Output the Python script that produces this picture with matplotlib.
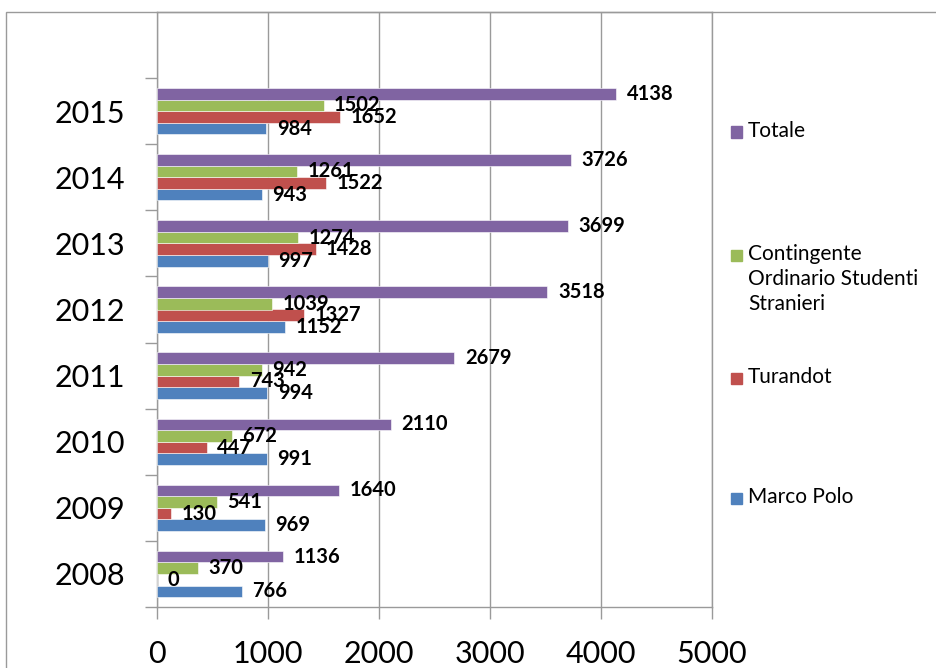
import matplotlib
matplotlib.use("Agg")
import matplotlib.pyplot as plt
import numpy as np
from matplotlib.patches import Rectangle

years = ["2008", "2009", "2010", "2011", "2012", "2013", "2014", "2015"]
marco_polo = [766, 969, 991, 994, 1152, 997, 943, 984]
turandot = [0, 130, 447, 743, 1327, 1428, 1522, 1652]
contingente = [370, 541, 672, 942, 1039, 1274, 1261, 1502]
totale = [1136, 1640, 2110, 2679, 3518, 3699, 3726, 4138]

series = [
    ("Marco Polo", marco_polo, "#4F81BD"),
    ("Turandot", turandot, "#C0504D"),
    ("Contingente\nOrdinario Studenti\nStranieri", contingente, "#9BBB59"),
    ("Totale", totale, "#8064A2"),
]

plt.rcParams['font.family'] = ['Lato', 'DejaVu Sans']

W, H = 936, 668
fig = plt.figure(figsize=(W / 100, H / 100), dpi=100)
ax = fig.add_axes([157 / W, 1 - 607 / H, (712 - 157) / W, (607 - 12) / H])

grid_c = '#9a9a9a'
y = np.arange(len(years))
bh = 0.175
for k, (name, vals, col) in enumerate(series):
    pos = y + (k - 1.5) * bh
    ax.barh(pos, vals, height=bh, color=col, edgecolor='white', linewidth=0.4, zorder=3)
    for yy, v in zip(pos, vals):
        ax.annotate(str(v), (v, yy), xytext=(7.5, 0), textcoords='offset points',
                    va='center', ha='left', fontsize=14.5, fontweight='bold', zorder=4)

ax.set_xlim(0, 5000)
ax.set_ylim(-0.5, len(years) + 0.5)
ax.set_xticks(np.arange(0, 5001, 1000))
ax.set_xticklabels([str(v) for v in range(0, 5001, 1000)], fontsize=22)
ax.set_yticks(np.arange(-0.5, len(years), 1.0))
ax.set_yticklabels([])
ax.set_yticks(y, minor=True)
ax.set_yticklabels(years, minor=True, fontsize=22)
ax.tick_params(axis='y', which='major', length=8.6, color=grid_c, width=1)
ax.tick_params(axis='y', which='minor', length=0, pad=23)
ax.tick_params(axis='x', length=8.6, color=grid_c, width=1, pad=15)
ax.grid(axis='x', color=grid_c, linewidth=1, zorder=0)
for s in ax.spines.values():
    s.set_color(grid_c)
    s.set_linewidth(1)

# chart frame
fig.patches.append(Rectangle((6 / W, -0.1), 1.2, 1 - 12 / H + 0.1, transform=fig.transFigure,
                             fill=False, edgecolor=grid_c, linewidth=1, zorder=0))

# legend
leg_y = [498, 378, 255, 132]
for (name, vals, col), py in zip(series, leg_y):
    fig.patches.append(Rectangle((731 / W, 1 - (py + 5.5) / H), 11 / W, 11 / H,
                                 transform=fig.transFigure, color=col))
    fig.text(748 / W, 1 - (py - 11) / H, name, fontsize=15, va='top', ha='left',
             linespacing=1.3)

fig.savefig("out.png", dpi=100)
